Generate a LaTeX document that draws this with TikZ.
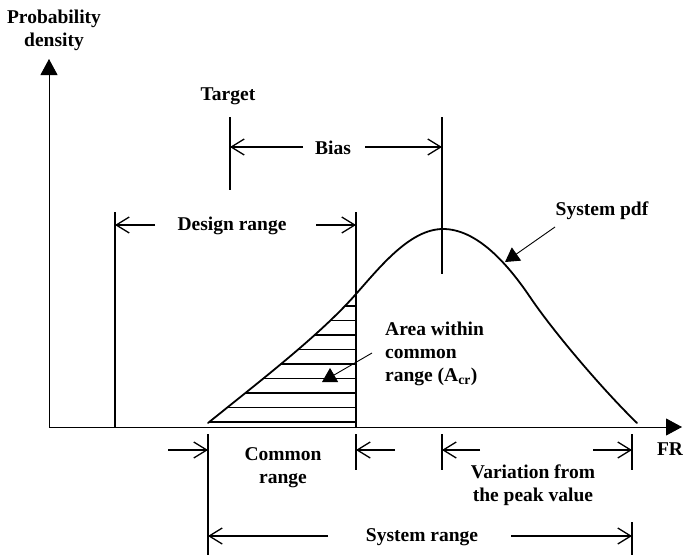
\documentclass[tikz,border=0pt]{standalone}
\usepackage{fontspec}
\setmainfont{Liberation Serif}
\usetikzlibrary{arrows.meta}
\begin{document}
\begin{tikzpicture}[x=1pt,y=-1pt,
  lbl/.style={font=\fontsize{19.5}{23}\selectfont\bfseries, inner sep=0pt, align=center},
  mainline/.style={line width=1.8pt},
  hatchline/.style={line width=1.6pt},
  dim/.style={line width=1.3pt, -{Straight Barb[length=13pt,width=16pt]}},
  axisline/.style={line width=0.9pt, -{Triangle[length=16pt,width=17pt]}},
  pointer/.style={line width=0.9pt, -{Triangle[length=14pt,width=16pt]}}]
\useasboundingbox (0,0) rectangle (684,555);

% axes
\coordinate (O) at (49,427);
\coordinate (Ytop) at (49,59);
\coordinate (Xend) at (682,427);
\draw[axisline] (O) -- (Ytop);
\draw[axisline] (O) -- (Xend);
\node[lbl] (ylab) at (54,30) {Probability\\density};
\node[lbl] (fr) at (670,449) {FR};

% curve key points
\coordinate (c0) at (208,423);
\coordinate (c1) at (356,294);
\coordinate (c2) at (443,229);
\coordinate (c3) at (530,297);
\coordinate (c4) at (637,423);

% hatching
\begin{scope}
\clip (c0) .. controls (260,381) and (320,335) .. (c1) -- (356,428) -- (200,428) -- cycle;
\foreach \yy in {422,407.5,393,378.5,364,349.5,335,320.5,306}
  \draw[hatchline] (200,\yy) -- (360,\yy);
\end{scope}

% pdf curve
\draw[mainline, line join=round, line cap=round]
  (c0) .. controls (260,381) and (320,335) .. (c1)
       .. controls (380,267) and (410,229) .. (c2)
       .. controls (475,229) and (505,260) .. (c3)
       .. controls (555,334) and (605,392) .. (c4);

% vertical lines (top)
\coordinate (T1) at (230,117); \coordinate (T2) at (230,190);
\coordinate (P1) at (442,117); \coordinate (P2) at (442,274);
\coordinate (D1a) at (115,212); \coordinate (D1b) at (115,427);
\coordinate (D2a) at (356,212); \coordinate (D2b) at (356,427);
\draw[mainline] (T1) -- (T2);
\draw[mainline] (P1) -- (P2);
\draw[mainline] (D1a) -- (D1b);
\draw[mainline] (D2a) -- (D2b);

% vertical lines (bottom)
\coordinate (S1a) at (208,434); \coordinate (S1b) at (208,555);
\coordinate (C2a) at (356,434); \coordinate (C2b) at (356,470);
\coordinate (V1a) at (442,434); \coordinate (V1b) at (442,470);
\coordinate (V2a) at (632,434); \coordinate (V2b) at (632,470);
\coordinate (S2a) at (632,522); \coordinate (S2b) at (632,555);
\draw[mainline] (S1a) -- (S1b);
\draw[mainline] (C2a) -- (C2b);
\draw[mainline] (V1a) -- (V1b);
\draw[mainline] (V2a) -- (V2b);
\draw[mainline] (S2a) -- (S2b);

% labels
\node[lbl] (target) at (228,96) {Target};
\node[lbl] (bias) at (333,148) {Bias};
\node[lbl] (design) at (232,226) {Design range};
\node[lbl] (pdf) at (602,211) {System pdf};
\node[lbl, align=left, anchor=north west] (area) at (385,322) {Area within\\common\\range (A\textsubscript{cr})};
\node[lbl] (common) at (283,468) {Common\\range};
\node[lbl] (variation) at (533,485) {Variation from\\the peak value};
\node[lbl] (sysrange) at (422,537) {System range};

% dimension arrows
\coordinate (b1s) at (303,147); \coordinate (b1e) at (230,147);
\coordinate (b2s) at (365,147); \coordinate (b2e) at (442,147);
\draw[dim] (b1s) -- (b1e);
\draw[dim] (b2s) -- (b2e);
\coordinate (d1s) at (155,225); \coordinate (d1e) at (115,225);
\coordinate (d2s) at (316,225); \coordinate (d2e) at (356,225);
\draw[dim] (d1s) -- (d1e);
\draw[dim] (d2s) -- (d2e);
\coordinate (k1s) at (168,450); \coordinate (k1e) at (208,450);
\coordinate (k2s) at (395,450); \coordinate (k2e) at (356,450);
\draw[dim] (k1s) -- (k1e);
\draw[dim] (k2s) -- (k2e);
\coordinate (v1s) at (480,450); \coordinate (v1e) at (442,450);
\coordinate (v2s) at (593,450); \coordinate (v2e) at (632,450);
\draw[dim] (v1s) -- (v1e);
\draw[dim] (v2s) -- (v2e);
\coordinate (s1s) at (328,536); \coordinate (s1e) at (208,536);
\coordinate (s2s) at (511,536); \coordinate (s2e) at (632,536);
\draw[dim] (s1s) -- (s1e);
\draw[dim] (s2s) -- (s2e);

% pointers
\coordinate (pp1) at (555,227); \coordinate (pp2) at (505,262);
\draw[pointer] (pp1) -- (pp2);
\coordinate (ap1) at (372,353); \coordinate (ap2) at (322,382);
\draw[pointer] (ap1) -- (ap2);
\end{tikzpicture}
\end{document}
